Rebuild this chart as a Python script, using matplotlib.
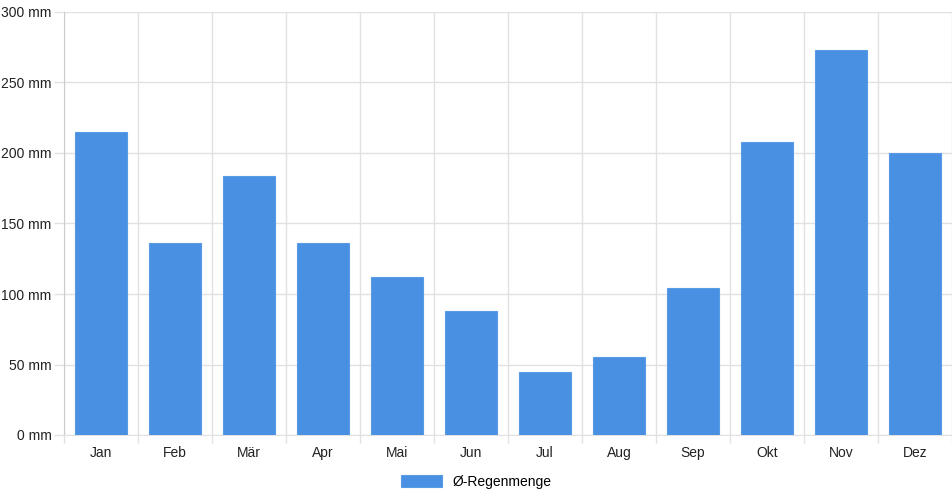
import matplotlib.pyplot as plt
import numpy as np

plt.rcParams['font.family'] = ['Liberation Sans', 'DejaVu Sans']

monate = ['Jan', 'Feb', 'Mär', 'Apr', 'Mai', 'Jun', 'Jul', 'Aug', 'Sep', 'Okt', 'Nov', 'Dez']
regen = [215, 136, 184, 136, 112, 88, 45, 55, 104, 208, 273, 200]
y_ticks = [0, 50, 100, 150, 200, 250, 300]

blau = '#4a90e2'
grid_farbe = '#e1e1e1'

fig = plt.figure(figsize=(9.52, 5.0), dpi=100)
ax = fig.add_axes([64 / 952, 65 / 500, 1 - 64 / 952, 423 / 500])

x = np.arange(len(monate))
ax.bar(x, regen, width=0.71, color=blau, edgecolor='#5a9be6', linewidth=0.8,
       label='Ø-Regenmenge', zorder=3)

ax.set_xlim(-0.5, len(monate) - 0.5)
ax.set_ylim(0, 300)

# Gitter an den Kategoriegrenzen
ax.set_xticks(x)
ax.set_xticklabels(monate)
ax.set_xticks(np.arange(-0.5, len(monate)), minor=True)
ax.tick_params(axis='x', which='major', length=0, pad=8, labelsize=10, colors='#222222')
ax.tick_params(axis='x', which='minor', length=6, color=grid_farbe, width=1)
ax.grid(axis='x', which='minor', color=grid_farbe, linewidth=1, zorder=0)

ax.set_yticks(y_ticks)
ax.set_yticklabels([f'{v} mm' for v in y_ticks])
ax.tick_params(axis='y', length=7, color=grid_farbe, width=1, labelsize=10, colors='#222222', pad=2)
for t in ax.yaxis.get_ticklines():
    t.set_color(grid_farbe)
for t in ax.xaxis.get_minorticklines():
    t.set_color(grid_farbe)
ax.grid(axis='y', color=grid_farbe, linewidth=1, zorder=0)

for s in ['top', 'right']:
    ax.spines[s].set_visible(False)
ax.spines['left'].set_color('#cccccc')
ax.spines['bottom'].set_color(grid_farbe)

fig.legend(loc='center', bbox_to_anchor=(0.5, 1 - 482 / 500), frameon=False,
           fontsize=10, handlelength=3.0, handleheight=0.95, handletextpad=0.7)

fig.savefig('out.png', dpi=100)
